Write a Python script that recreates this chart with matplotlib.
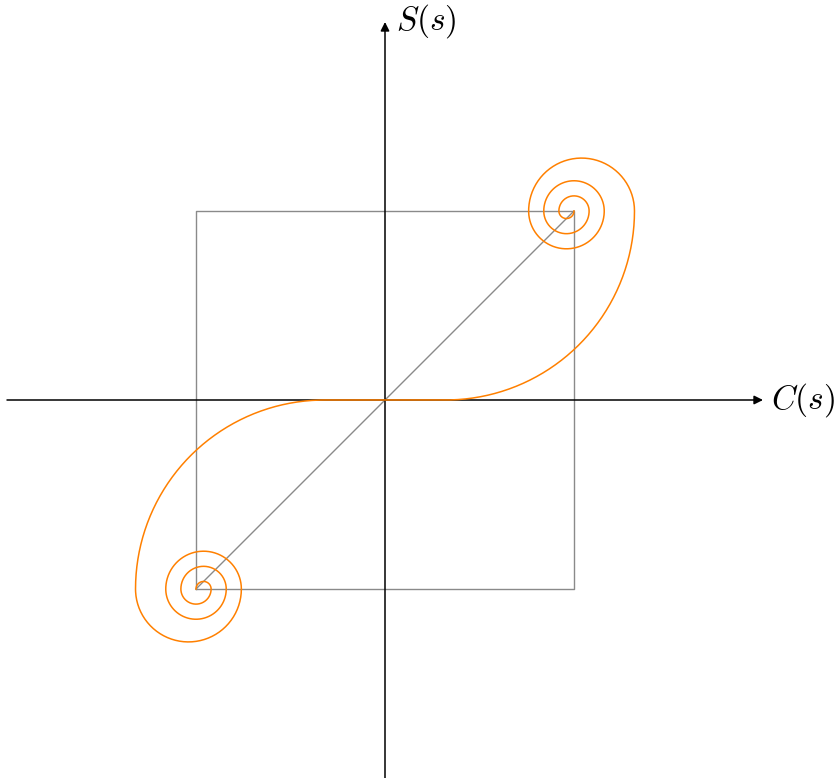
import numpy as np
import matplotlib
matplotlib.use("Agg")
import matplotlib.pyplot as plt

plt.rcParams["mathtext.fontset"] = "cm"

# Limits of the Fresnel integrals, C(+inf) = S(+inf) = 1/2
limit = 0.5

# Upper branch of the spiral (the lower branch is its point reflection):
# a straight run along the C axis, a quarter bend of radius bend_radius,
# then half-turn loops winding into (limit, limit).
straight_run = 0.16
bend_radius = 0.5
loop_centres_c = [0.52, 0.48, 0.50, 0.48, 0.50, 0.48]
loop_radii = [0.14, 0.10, 0.08, 0.06, 0.04, 0.02]

# Axis extent and labels
axis_extent = 1.0
x_label = r"$C(s)$"
y_label = r"$S(s)$"


def spiral_branch():
    xs = [0.0, straight_run]
    ys = [0.0, 0.0]
    t = np.linspace(-np.pi / 2, 0, 120)
    xs += list(straight_run + bend_radius * np.cos(t))
    ys += list(limit + bend_radius * np.sin(t))
    for i, (cx, r) in enumerate(zip(loop_centres_c, loop_radii)):
        start = 0.0 if i % 2 == 0 else np.pi
        t = np.linspace(start, start + np.pi, 120)
        xs += list(cx + r * np.cos(t))
        ys += list(limit + r * np.sin(t))
    return np.array(xs), np.array(ys)


fig = plt.figure(figsize=(8.36, 7.78), dpi=100)
ax = fig.add_axes([0, 0, 1, 1])
ax.set_xlim(-385 / 378, 451 / 378)
ax.set_ylim(-378 / 378, 400 / 378)
ax.set_aspect("equal")
ax.axis("off")

grey = "#8a8a8a"
ax.plot([-limit, limit, limit, -limit, -limit],
        [-limit, -limit, limit, limit, -limit], color=grey, lw=1.0, zorder=1)
ax.plot([-limit, limit], [-limit, limit], color=grey, lw=1.0, zorder=1)

arrow = dict(arrowstyle="-|>", color="black", lw=1.1, mutation_scale=13,
             shrinkA=0, shrinkB=0)
ax.annotate("", xy=(axis_extent, 0), xytext=(-axis_extent, 0),
            arrowprops=arrow, zorder=2)
ax.annotate("", xy=(0, axis_extent), xytext=(0, -axis_extent),
            arrowprops=arrow, zorder=2)

ax.text(axis_extent + 0.021, 0, x_label, fontsize=24, ha="left", va="center")
ax.text(0.028, axis_extent + 0.003, y_label, fontsize=24, ha="left", va="center")

bx, by = spiral_branch()
curve_x = np.concatenate([-bx[::-1], bx])
curve_y = np.concatenate([-by[::-1], by])
ax.plot(curve_x, curve_y, color="#ff8000", lw=1.1, zorder=3,
        solid_joinstyle="round")

fig.savefig("out.png", dpi=100)
